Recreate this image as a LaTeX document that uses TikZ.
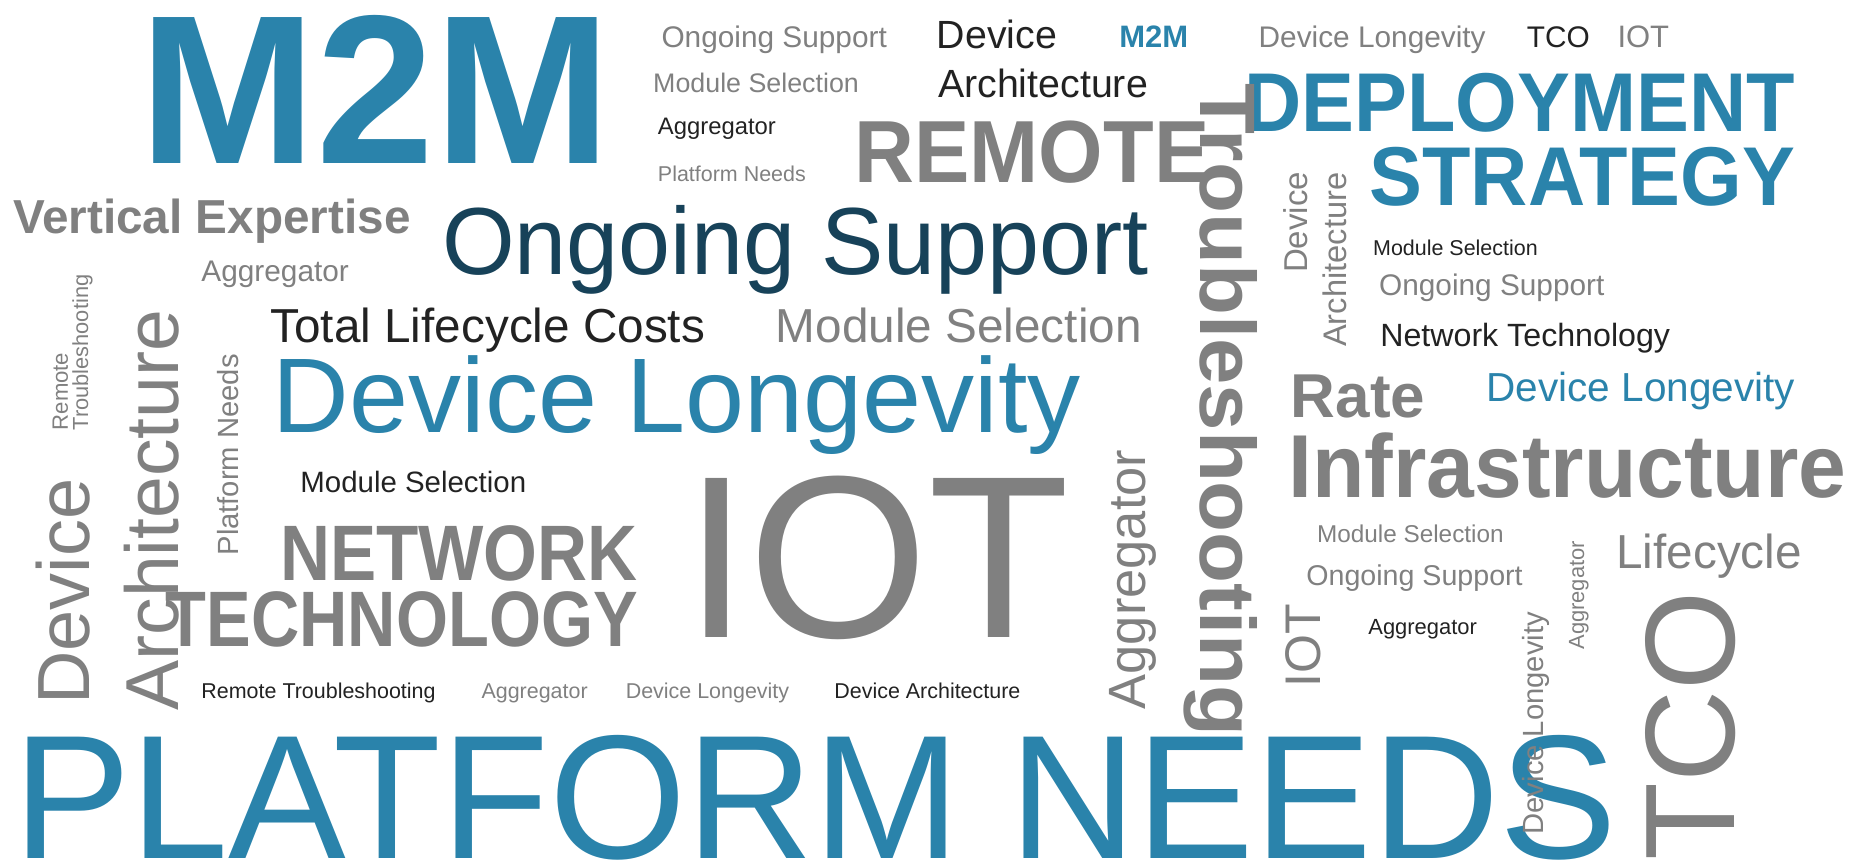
\documentclass[tikz,border=0pt]{standalone}
\usepackage{fontspec}
\usepackage{graphicx}
\setmainfont{Liberation Sans}
\definecolor{cloudblue}{HTML}{2A83AB}
\definecolor{cloudteal}{HTML}{174259}
\definecolor{cloudgray}{HTML}{808080}
\definecolor{cloudblack}{HTML}{222222}
\newcommand{\wsize}[1]{\fontsize{#1}{#1}\selectfont}
\newcommand{\wbold}[1]{\bfseries\fontsize{#1}{#1}\selectfont}
\tikzset{
  word/.style={anchor=base west, inner sep=0pt, outer sep=0pt},
  wordup/.style={word, rotate=90},
  worddown/.style={word, rotate=-90},
  wblue/.style={text=cloudblue},
  wteal/.style={text=cloudteal},
  wgray/.style={text=cloudgray},
  wblack/.style={text=cloudblack}
}
\begin{document}
\begin{tikzpicture}[x=1pt,y=-1pt]
  \useasboundingbox (0,0) rectangle (1568,725);
  % top left
  \node[word, wblue, font=\wbold{178}] (m2mbig) at (117,137) {M2M};
  \node[word, wgray, font=\wsize{25}] (supporta) at (555,40) {Ongoing Support};
  \node[word, wgray, font=\wsize{22.5}] (modulea) at (548,78) {Module Selection};
  \node[word, wblack, font=\wsize{20}] (aggra) at (552,113) {Aggregator};
  \node[word, wgray, font=\wsize{18}] (platforma) at (552,152) {Platform Needs};
  \node[word, wblack, font=\wsize{33}] (devicea) at (786,41) {Device};
  \node[word, wblack, font=\wsize{33}] (archa) at (787,82) {Architecture};
  \node[word, wblue, font=\wbold{26}] (m2msmall) at (939,40) {M2M};
  \node[word, wgray, font=\wsize{25}] (longa) at (1056,40) {Device Longevity};
  \node[word, wblack, font=\wsize{25}] (tcoa) at (1281,40) {TCO};
  \node[word, wgray, font=\wsize{26}] (iota) at (1357,40) {IOT};
  \node[word, wgray, font=\wbold{74}] (remote) at (717,153) {\scalebox{0.94}[1]{REMOTE}};
  \node[word, wblue, font=\wbold{70}] (deploy) at (1044,110) {\scalebox{0.95}[1]{DEPLOYMENT}};
  \node[word, wblue, font=\wbold{70}] (strategy) at (1149,172) {\scalebox{0.95}[1]{STRATEGY}};
  % middle band
  \node[word, wgray, font=\wbold{40}] (vertical) at (11,196) {Vertical Expertise};
  \node[word, wgray, font=\wsize{25}] (aggrb) at (169,236) {Aggregator};
  \node[word, wteal, font=\wsize{80}] (supportbig) at (371,230) {\scalebox{0.98}[1]{Ongoing Support}};
  \node[word, wblack, font=\wsize{18}] (moduleb) at (1152,214) {Module Selection};
  \node[word, wgray, font=\wsize{25}] (supportb) at (1157,248) {Ongoing Support};
  \node[word, wblack, font=\wsize{27}] (network) at (1158,291) {Network Technology};
  \node[word, wblack, font=\wsize{40}] (costs) at (227,287) {Total Lifecycle Costs};
  \node[word, wgray, font=\wsize{40}] (modulec) at (651,287) {Module Selection};
  \node[word, wblue, font=\wsize{89}] (longbig) at (229,363) {Device Longevity};
  \node[word, wgray, font=\wbold{52}] (rate) at (1083,350) {Rate};
  \node[word, wblue, font=\wsize{34}] (longb) at (1247,337) {Device Longevity};
  \node[word, wgray, font=\wbold{75}] (infra) at (1081,417) {\scalebox{0.96}[1]{Infrastructure}};
  \node[word, wblack, font=\wsize{24.7}] (moduled) at (252,413) {Module Selection};
  \node[word, wgray, font=\wsize{194}] (iotbig) at (574,535) {IOT};
  \node[word, wgray, font=\wbold{66}, anchor=base east] (netword) at (535,487) {\scalebox{0.88}[1]{NETWORK}};
  \node[word, wgray, font=\wbold{66}, anchor=base east] (techword) at (535,542) {\scalebox{0.85}[1]{TECHNOLOGY}};
  \node[word, wgray, font=\wsize{20.4}] (modulee) at (1105,455) {Module Selection};
  \node[word, wgray, font=\wsize{40}] (lifecycle) at (1356,477) {Lifecycle};
  \node[word, wgray, font=\wsize{24}] (supportc) at (1096,491) {Ongoing Support};
  \node[word, wblack, font=\wsize{18.4}] (aggrc) at (1148,532) {Aggregator};
  % bottom row
  \node[word, wblack, font=\wsize{18}] (troublea) at (169,586) {Remote Troubleshooting};
  \node[word, wgray, font=\wsize{18}] (aggrd) at (404,586) {Aggregator};
  \node[word, wgray, font=\wsize{18}] (longc) at (525,586) {Device Longevity};
  \node[word, wblack, font=\wsize{18}] (archb) at (700,586) {Device Architecture};
  \node[word, wblue, font=\wsize{148}] (platformbig) at (11,720) {PLATFORM NEEDS};
  % vertical words
  \node[worddown, wgray, font=\wbold{66}] (troublebig) at (1007,70) {\scalebox{1.06}[1]{Troubleshooting}};
  \node[wordup, wgray, font=\wsize{44}] (aggre) at (961,595) {Aggregator};
  \node[wordup, wgray, font=\wsize{107}] (tcobig) at (1455,722) {TCO};
  \node[wordup, wgray, font=\wsize{24.5}] (longd) at (1295,700) {Device Longevity};
  \node[wordup, wgray, font=\wsize{18.4}] (aggrf) at (1329,545) {Aggregator};
  \node[wordup, wgray, font=\wsize{42}] (iotb) at (1108,577) {IOT};
  \node[wordup, wgray, font=\wsize{27.7}] (deviceb) at (1097,229) {Device};
  \node[wordup, wgray, font=\wsize{27.4}] (archc) at (1130,291) {Architecture};
  \node[wordup, wgray, font=\wsize{18.6}] (remoteb) at (57,361) {Remote};
  \node[wordup, wgray, font=\wsize{18.3}] (troubleb) at (74,361) {Troubleshooting};
  \node[wordup, wgray, font=\wsize{63}] (archbig) at (150,596) {Architecture};
  \node[wordup, wgray, font=\wsize{62}] (devicebig) at (75,591) {Device};
  \node[wordup, wgray, font=\wsize{24.5}] (platformb) at (200,466) {Platform Needs};
\end{tikzpicture}
\end{document}
